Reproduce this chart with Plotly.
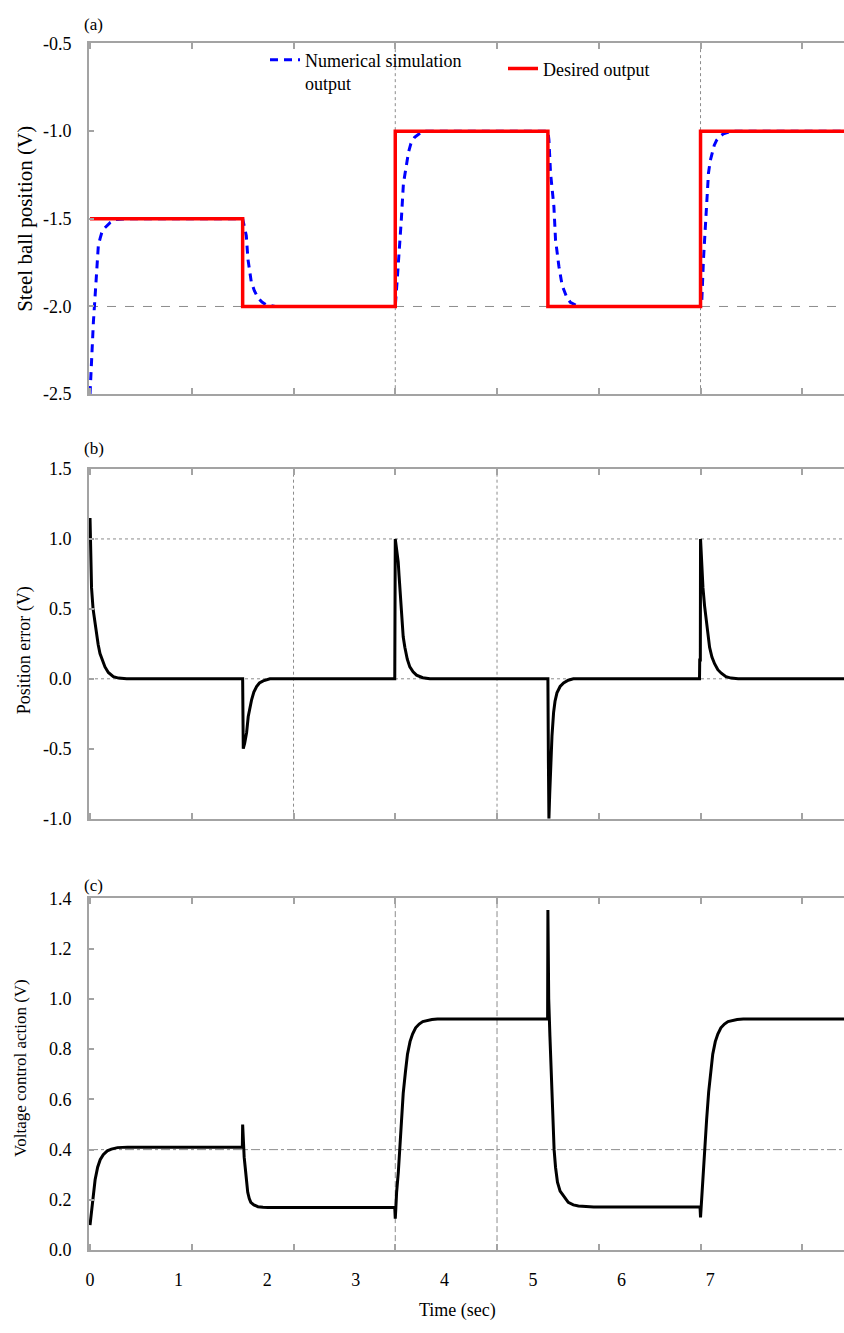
import plotly.graph_objects as go

# ---------------- data ----------------
T_END = 7.41

# (a) desired reference and simulated ball position (V)
t_desired = [0.0, 1.5, 3.0, 4.5, 6.0, T_END]
y_desired = [-1.5, -2.0, -1.0, -2.0, -1.0, -1.0]

t_sim = [0.0, 0.017, 0.033, 0.05, 0.065, 0.082, 0.1, 0.115, 0.14, 0.163, 0.2, 0.245, 0.35, 1.5,
         1.536, 1.552, 1.57, 1.585, 1.615, 1.65, 1.69, 1.73, 1.82, 3.0,
         3.02, 3.04, 3.06, 3.08, 3.105, 3.13, 3.154, 3.19, 3.235, 3.30, 4.5,
         4.51, 4.526, 4.559, 4.575, 4.608, 4.64, 4.68, 4.72, 4.80, 6.0,
         6.013, 6.029, 6.046, 6.062, 6.078, 6.095, 6.111, 6.135, 6.16, 6.19, 6.225, 6.30, T_END]
y_sim = [-2.5, -2.275, -2.09, -1.94, -1.77, -1.65, -1.61, -1.58, -1.555, -1.54, -1.52, -1.505, -1.5, -1.5,
         -1.597, -1.73, -1.8, -1.86, -1.91, -1.95, -1.975, -1.99, -2.0, -2.0,
         -1.84, -1.68, -1.5, -1.3, -1.2, -1.12, -1.07, -1.035, -1.015, -1.0, -1.0,
         -1.05, -1.24, -1.43, -1.62, -1.77, -1.88, -1.94, -1.976, -2.0, -2.0,
         -1.96, -1.73, -1.54, -1.39, -1.24, -1.17, -1.13, -1.08, -1.05, -1.03, -1.015, -1.0, -1.0]

# (b) position error (V)
t_err = [0.0, 0.005, 0.015, 0.03, 0.045, 0.065, 0.08, 0.098, 0.12, 0.147, 0.18, 0.229, 0.28, 0.36, 1.5,
         1.502, 1.506, 1.52, 1.539, 1.555, 1.57, 1.588, 1.61, 1.637, 1.665, 1.702, 1.768, 2.995,
         3.0, 3.015, 3.029, 3.037, 3.045, 3.054, 3.062, 3.078, 3.094, 3.118, 3.143, 3.175, 3.209,
         3.27, 3.34, 4.5,
         4.505, 4.51, 4.518, 4.525, 4.532, 4.54, 4.556, 4.57, 4.589, 4.62, 4.654, 4.7, 4.75, 5.99,
         5.992, 5.998, 6.0, 6.012, 6.024, 6.04, 6.056, 6.072, 6.089, 6.112, 6.138, 6.17, 6.204,
         6.25, 6.30, 6.37, T_END]
e_err = [1.15, 0.9, 0.65, 0.5, 0.41, 0.32, 0.245, 0.18, 0.13, 0.085, 0.045, 0.015, 0.005, 0.0, 0.0,
         -0.3, -0.5, -0.46, -0.385, -0.27, -0.2, -0.15, -0.095, -0.055, -0.03, -0.015, 0.0, 0.0,
         1.0, 0.93, 0.835, 0.74, 0.65, 0.52, 0.41, 0.3, 0.225, 0.14, 0.085, 0.05, 0.026,
         0.008, 0.0, 0.0,
         -0.6, -1.0, -0.82, -0.64, -0.52, -0.41, -0.24, -0.16, -0.10, -0.055, -0.03, -0.01, 0.0, 0.0,
         0.135, 0.135, 1.0, 0.8, 0.65, 0.52, 0.415, 0.31, 0.225, 0.155, 0.108, 0.065, 0.04,
         0.015, 0.005, 0.0, 0.0]

# (c) voltage control action (V)
t_ctrl = [0.0, 0.01, 0.02, 0.035, 0.05, 0.075, 0.1, 0.13, 0.17, 0.21, 0.27, 0.37, 1.497,
          1.5, 1.505, 1.515, 1.53, 1.54, 1.55, 1.565, 1.58, 1.61, 1.65, 1.7, 1.75, 2.995,
          3.0, 3.006, 3.013, 3.03, 3.045, 3.06, 3.078, 3.1, 3.12, 3.145, 3.17, 3.2, 3.235,
          3.27, 3.317, 3.36, 3.415, 4.497,
          4.5, 4.508, 4.52, 4.53, 4.545, 4.553, 4.561, 4.575, 4.594, 4.62, 4.66, 4.7, 4.75,
          4.8, 4.95, 5.995,
          6.0, 6.006, 6.015, 6.03, 6.045, 6.06, 6.08, 6.1, 6.12, 6.145, 6.17, 6.2, 6.235,
          6.27, 6.32, 6.36, 6.42, T_END]
u_ctrl = [0.10, 0.135, 0.17, 0.23, 0.28, 0.33, 0.36, 0.38, 0.395, 0.402, 0.408, 0.41, 0.41,
          0.50, 0.42, 0.37, 0.31, 0.27, 0.23, 0.205, 0.19, 0.18, 0.173, 0.171, 0.17, 0.17,
          0.125, 0.17, 0.23, 0.31, 0.40, 0.52, 0.624, 0.71, 0.78, 0.83, 0.86, 0.885, 0.90,
          0.91, 0.915, 0.918, 0.92, 0.92,
          1.354, 1.0, 0.85, 0.74, 0.624, 0.51, 0.40, 0.33, 0.27, 0.235, 0.21, 0.19, 0.18,
          0.176, 0.172, 0.172,
          0.13, 0.17, 0.25, 0.33, 0.42, 0.52, 0.63, 0.71, 0.78, 0.83, 0.86, 0.885, 0.90,
          0.91, 0.915, 0.918, 0.92, 0.92]

# axis ticks and labels
sec_ticks = [0, 1, 2, 3, 4, 5, 6, 7]
sec_labels = ["0", "1", "2", "3", "4", "5", "6", "7"]
ya_ticks = [-2.5, -2.0, -1.5, -1.0, -0.5]
ya_labels = ["-2.5", "-2.0", "-1.5", "-1.0", "-0.5"]
yb_ticks = [-1.0, -0.5, 0.0, 0.5, 1.0, 1.5]
yb_labels = ["-1.0", "-0.5", "0.0", "0.5", "1.0", "1.5"]
yc_ticks = [0.0, 0.2, 0.4, 0.6, 0.8, 1.0, 1.2, 1.4]
yc_labels = ["0.0", "0.2", "0.4", "0.6", "0.8", "1.0", "1.2", "1.4"]

# reference grid lines per panel
grid_a_t, grid_a_y = [3, 6], [-2.0]
grid_b_t, grid_b_y = [2, 4], [0.0, 1.0]
grid_c_t, grid_c_y = [3, 4], [0.4]

# ---------------- layout constants ----------------
W, H = 844, 1333
ML = 89
X_LO = -0.01
PX_PER_UNIT = (W - ML) / (T_END - X_LO)
LABEL_STEP_PX = 88.6          # spacing of the printed time labels
FONT = "Liberation Serif, Times New Roman, serif"
AXIS_GRAY = "#a3a3a3"
GRID_GRAY = "#8c8c8c"


def ydom(top_px, bottom_px):
    return [1 - bottom_px / H, 1 - top_px / H]


def px_x(p):
    return (p - ML) / (W - ML)


def px_y(p):
    return 1 - p / H


fig = go.Figure()

fig.add_trace(go.Scatter(x=t_sim, y=y_sim, mode="lines", xaxis="x", yaxis="y",
                         name="Numerical simulation<br>output", legend="legend",
                         line=dict(color="#0000ff", width=3, dash="8px,6px")))
fig.add_trace(go.Scatter(x=t_desired, y=y_desired, mode="lines", xaxis="x", yaxis="y",
                         name="Desired output", legend="legend2", line_shape="hv",
                         line=dict(color="#ff0000", width=3.5)))
fig.add_trace(go.Scatter(x=t_err, y=e_err, mode="lines", xaxis="x2", yaxis="y2",
                         showlegend=False, line=dict(color="black", width=3)))
fig.add_trace(go.Scatter(x=t_ctrl, y=u_ctrl, mode="lines", xaxis="x3", yaxis="y3",
                         showlegend=False, line=dict(color="black", width=3)))
# carrier for the printed time-label axis
fig.add_trace(go.Scatter(x=[], y=[], xaxis="x4", yaxis="y3", showlegend=False))

xcommon = dict(range=[X_LO, T_END], domain=[0, 1], tickvals=sec_ticks,
               showticklabels=False, ticks="inside", ticklen=6, tickwidth=1.5,
               tickcolor=AXIS_GRAY, showline=True, linecolor=AXIS_GRAY,
               linewidth=2, mirror="ticks", showgrid=False, zeroline=False)


def ycommon(rng, ticks, labels, dom):
    return dict(range=rng, domain=dom, tickvals=ticks, ticktext=labels,
                ticks="inside", ticklen=5, tickwidth=1.5, tickcolor=AXIS_GRAY,
                showline=True, linecolor=AXIS_GRAY, linewidth=2,
                showgrid=False, zeroline=False, ticklabelstandoff=12,
                tickfont=dict(family=FONT, size=18, color="black"))


label_range = [X_LO * PX_PER_UNIT / LABEL_STEP_PX, T_END * PX_PER_UNIT / LABEL_STEP_PX]

fig.update_layout(
    width=W, height=H,
    margin=dict(l=ML, r=0, t=0, b=0),
    paper_bgcolor="white", plot_bgcolor="white",
    font=dict(family=FONT, size=18, color="black"),
    xaxis=dict(xcommon, anchor="y"),
    xaxis2=dict(xcommon, anchor="y2"),
    xaxis3=dict(xcommon, anchor="y3"),
    xaxis4=dict(range=label_range, overlaying="x3", anchor="y3", side="bottom",
                tickvals=sec_ticks, ticktext=sec_labels, ticks="",
                showline=False, showgrid=False, zeroline=False,
                ticklabelstandoff=17,
                tickfont=dict(family=FONT, size=18, color="black")),
    yaxis=dict(ycommon([-2.5, -0.5], ya_ticks, ya_labels, ydom(34, 390)), anchor="x"),
    yaxis2=dict(ycommon([-1.0, 1.5], yb_ticks, yb_labels, ydom(466, 821)), anchor="x2"),
    yaxis3=dict(ycommon([0.0, 1.4], yc_ticks, yc_labels, ydom(902, 1259)), anchor="x3"),
    legend=dict(x=px_x(265), y=px_y(32), xanchor="left", yanchor="top",
                bgcolor="rgba(0,0,0,0)", valign="top", itemwidth=30,
                font=dict(family=FONT, size=18, color="black")),
    legend2=dict(x=px_x(503), y=px_y(41), xanchor="left", yanchor="top",
                 bgcolor="rgba(0,0,0,0)", itemwidth=30,
                 font=dict(family=FONT, size=18, color="black")),
)

# reference grid lines
shapes = []
for xa, ya, ts, ys, dash in [("x", "y", grid_a_t, grid_a_y, ("dot", "dash")),
                             ("x2", "y2", grid_b_t, grid_b_y, ("dot", "dot")),
                             ("x3", "y3", grid_c_t, grid_c_y, ("6px,3px", "dashdot"))]:
    for t in ts:
        shapes.append(dict(type="line", xref=xa, yref=ya + " domain", x0=t, x1=t,
                           y0=0, y1=1, layer="below",
                           line=dict(color=GRID_GRAY, width=1, dash=dash[0])))
    for v in ys:
        shapes.append(dict(type="line", xref=xa + " domain", yref=ya, x0=0, x1=1,
                           y0=v, y1=v, layer="below",
                           line=dict(color=GRID_GRAY, width=1, dash=dash[1])))
fig.update_layout(shapes=shapes)

# panel tags and axis titles
notes = [
    ("(a)", 93, 15, 0, 17),
    ("(b)", 94, 445, 0, 17),
    ("(c)", 93, 889, 0, 17),
    ("Steel ball position (V)", 25, 212, -90, 21),
    ("Position error (V)", 24, 650, -90, 18),
    ("Voltage control action (V)", 21, 1074, -90, 17),
    ("Time (sec)", 457, 1320, 0, 18),
]
for text, px, py, ang, size in notes:
    fig.add_annotation(text=text, xref="paper", yref="paper", x=px_x(px), y=px_y(py),
                       xanchor="center", yanchor="middle", showarrow=False,
                       textangle=ang, font=dict(family=FONT, size=size, color="black"))

fig.write_html("out.html")
